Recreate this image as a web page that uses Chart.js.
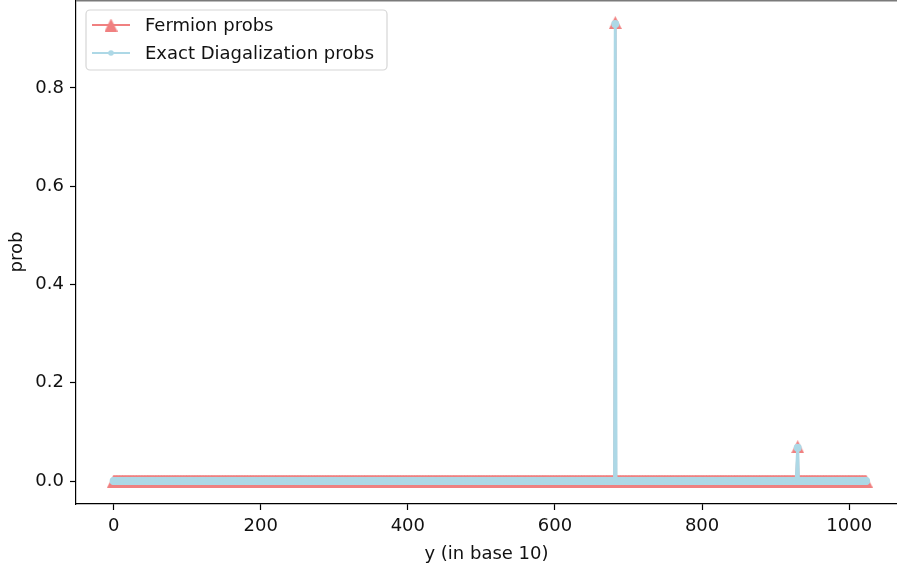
<!DOCTYPE html>
<html>
<head>
<meta charset="utf-8">
<script src="https://cdn.jsdelivr.net/npm/chart.js@4/dist/chart.umd.min.js"></script>
<style>
  html, body { margin: 0; padding: 0; background: #fff; }
  #wrap { width: 897px; height: 569px; }
</style>
</head>
<body>
<div id="wrap"><canvas id="myChart" width="897" height="569"></canvas></div>
<script>
// basis states y = 0 .. 1023 (10 qubits); every state not listed reads as 0
var nStates = 1024;
var peakStates = [682, 930];
var fermionPeaks = [0.933, 0.070];
var edPeaks = [0.930, 0.068];
var xTicks = [0, 200, 400, 600, 800, 1000];
var yTicks = [0.0, 0.2, 0.4, 0.6, 0.8];

var fermionData = [];
var edData = [];
for (var i = 0; i < nStates; i++) {
  var k = peakStates.indexOf(i);
  fermionData.push({ x: i, y: k >= 0 ? fermionPeaks[k] : 0 });
  edData.push({ x: i, y: k >= 0 ? edPeaks[k] : 0 });
}

var red = "#F08080";
var blue = "#ADD8E6";
var font = "DejaVu Sans";
var fsize = 18;
var txt = "#111";

// matplotlib style "^" marker
function triangleMarker(size) {
  var c = document.createElement("canvas");
  c.width = size; c.height = size;
  var g = c.getContext("2d");
  g.fillStyle = red;
  g.beginPath();
  g.moveTo(size / 2, 0);
  g.lineTo(size, size);
  g.lineTo(0, size);
  g.closePath();
  g.fill();
  return c;
}
var tri = triangleMarker(13);

function noPad(s) {
  s.paddingTop = 0; s.paddingBottom = 0;
  s.paddingLeft = 0; s.paddingRight = 0;
}

var legendBox = {
  id: "legendBox",
  afterDraw: function(chart) {
    var ctx = chart.ctx;
    var area = chart.chartArea;
    ctx.save();
    // top spine, cut at the image edge
    ctx.fillStyle = "#7a7a7a";
    ctx.fillRect(area.left, 0, area.right - area.left, 1.5);

    var x0 = 86, y0 = 10, w = 301, h = 60, r = 4;
    ctx.beginPath();
    ctx.moveTo(x0 + r, y0);
    ctx.arcTo(x0 + w, y0, x0 + w, y0 + h, r);
    ctx.arcTo(x0 + w, y0 + h, x0, y0 + h, r);
    ctx.arcTo(x0, y0 + h, x0, y0, r);
    ctx.arcTo(x0, y0, x0 + w, y0, r);
    ctx.closePath();
    ctx.fillStyle = "rgba(255,255,255,0.8)";
    ctx.fill();
    ctx.strokeStyle = "#d6d6d6";
    ctx.lineWidth = 1.2;
    ctx.stroke();

    var rows = [
      { y: 25, color: red, label: "Fermion probs", tri: true },
      { y: 53, color: blue, label: "Exact Diagalization probs", tri: false }
    ];
    rows.forEach(function(row) {
      ctx.strokeStyle = row.color;
      ctx.lineWidth = 2.2;
      ctx.beginPath();
      ctx.moveTo(92, row.y);
      ctx.lineTo(130, row.y);
      ctx.stroke();
      if (row.tri) {
        ctx.drawImage(tri, 111 - 6.5, row.y - 6.5, 13, 13);
      } else {
        ctx.fillStyle = row.color;
        ctx.beginPath();
        ctx.arc(111, row.y, 2.8, 0, Math.PI * 2);
        ctx.fill();
      }
      ctx.fillStyle = txt;
      ctx.font = fsize + "px '" + font + "'";
      ctx.textBaseline = "middle";
      ctx.fillText(row.label, 145, row.y + 1);
    });
    ctx.restore();
  }
};

new Chart("myChart", {
  type: "line",
  data: {
    datasets: [{
      label: "Fermion probs",
      data: fermionData,
      borderColor: red,
      backgroundColor: red,
      borderWidth: 2.2,
      pointStyle: tri,
      pointRadius: 6,
      order: 1
    }, {
      label: "Exact Diagalization probs",
      data: edData,
      borderColor: blue,
      backgroundColor: blue,
      borderWidth: 3,
      pointStyle: "circle",
      pointRadius: 4,
      pointBorderWidth: 0,
      order: 0
    }]
  },
  options: {
    responsive: false,
    animation: false,
    events: [],
    layout: { padding: 0, autoPadding: false },
    plugins: {
      legend: { display: false },
      tooltip: { enabled: false }
    },
    scales: {
      x: {
        type: "linear",
        min: -51.15,
        max: 1065,
        afterFit: function(s) { s.height = 65; noPad(s); },
        afterBuildTicks: function(s) { s.ticks = xTicks.map(function(v) { return { value: v }; }); },
        ticks: {
          includeBounds: false,
          autoSkip: false,
          maxRotation: 0,
          padding: 6,
          color: txt,
          font: { family: font, size: fsize },
          callback: function(v) { return String(v); }
        },
        grid: { drawOnChartArea: false, drawTicks: true, tickLength: 6, tickColor: "#000", tickWidth: 1.2 },
        border: { display: true, color: "#000", width: 1.2 },
        title: {
          display: true,
          text: "y (in base 10)",
          color: txt,
          font: { family: font, size: fsize },
          padding: { top: 0, bottom: 4 }
        }
      },
      y: {
        type: "linear",
        min: -0.0466,
        max: 0.979,
        afterFit: function(s) { s.width = 76; noPad(s); },
        afterBuildTicks: function(s) { s.ticks = yTicks.map(function(v) { return { value: v }; }); },
        ticks: {
          includeBounds: false,
          autoSkip: false,
          padding: 6,
          color: txt,
          font: { family: font, size: fsize },
          callback: function(v) { return v.toFixed(1); }
        },
        grid: { drawOnChartArea: false, drawTicks: true, tickLength: 6, tickColor: "#000", tickWidth: 1.2 },
        border: { display: true, color: "#000", width: 1.2 },
        title: {
          display: true,
          text: "prob",
          color: txt,
          font: { family: font, size: fsize },
          padding: { top: 7, bottom: 0 }
        }
      }
    }
  },
  plugins: [legendBox]
});
</script>
</body>
</html>
